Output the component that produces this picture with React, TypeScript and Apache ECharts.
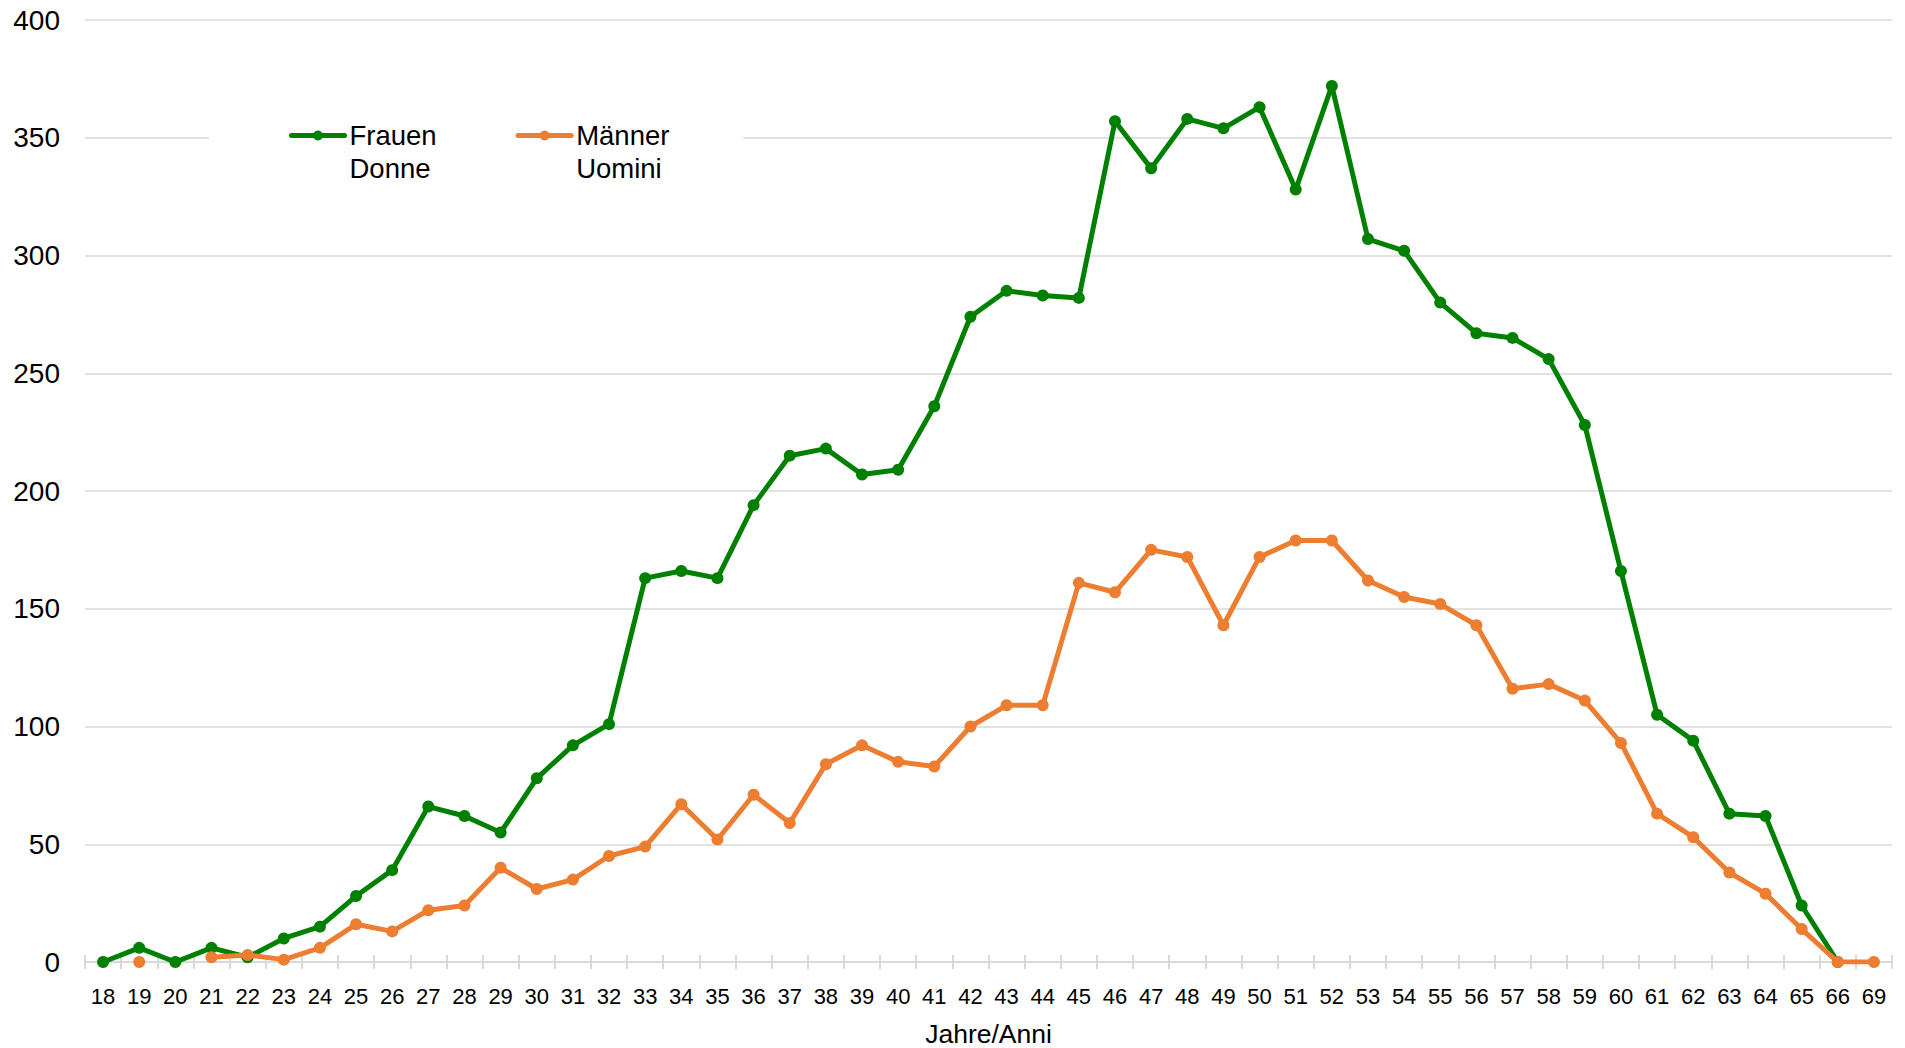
import React, { useEffect, useRef } from "react";
import * as echarts from "echarts";

const categories = [
  "18","19","20","21","22","23","24","25","26","27","28","29","30","31","32","33","34",
  "35","36","37","38","39","40","41","42","43","44","45","46","47","48","49","50","51",
  "52","53","54","55","56","57","58","59","60","61","62","63","64","65","66","69",
];

const frauen: (number | null)[] = [
  0, 6, 0, 6, 2, 10, 15, 28, 39, 66, 62, 55, 78, 92, 101, 163, 166,
  163, 194, 215, 218, 207, 209, 236, 274, 285, 283, 282, 357, 337, 358, 354, 363, 328,
  372, 307, 302, 280, 267, 265, 256, 228, 166, 105, 94, 63, 62, 24, 0, null,
];

const maenner: (number | null)[] = [
  null, 0, null, 2, 3, 1, 6, 16, 13, 22, 24, 40, 31, 35, 45, 49, 67,
  52, 71, 59, 84, 92, 85, 83, 100, 109, 109, 161, 157, 175, 172, 143, 172, 179,
  179, 162, 155, 152, 143, 116, 118, 111, 93, 63, 53, 38, 29, 14, 0, 0,
];

const yTicks = { min: 0, max: 400, interval: 50 };

const seriesNames = ["Frauen\nDonne", "Männer\nUomini"];
const seriesColors = ["#008000", "#ED7D31"];
const FONT = "'Liberation Sans', Arial, sans-serif";

export default function App() {
  const ref = useRef<HTMLDivElement>(null);

  useEffect(() => {
    if (!ref.current) return;
    const chart = echarts.init(ref.current, null, { renderer: "svg" });
    const lineSeries = (name: string, data: (number | null)[], color: string, z: number) => ({
      name,
      type: "line",
      data,
      z,
      connectNulls: false,
      symbol: "circle",
      symbolSize: 12,
      showSymbol: true,
      lineStyle: { color, width: 5, cap: "round", join: "round" },
      itemStyle: { color, borderWidth: 0 },
      emphasis: { disabled: true },
    });

    chart.setOption({
      animation: false,
      backgroundColor: "#ffffff",
      textStyle: { fontFamily: FONT },
      grid: {
        left: 85,
        right: 13,
        top: 20,
        bottom: 86,
        containLabel: false,
        outerBoundsMode: "none",
      },
      legend: {
        left: 209,
        top: 71,
        orient: "horizontal",
        backgroundColor: "#ffffff",
        padding: [15, 74, 5, 80],
        itemGap: 79,
        itemWidth: 53,
        itemHeight: 12.5,
        lineStyle: { width: 5, cap: "round" },
        formatter: (name: string) => " \n" + name,
        textStyle: {
          fontSize: 27.5,
          lineHeight: 33,
          color: "#000000",
          fontFamily: FONT,
        },
        data: seriesNames,
      },
      xAxis: [
        {
          type: "category",
          data: categories,
          boundaryGap: true,
          position: "bottom",
          name: "Jahre/Anni",
          nameLocation: "middle",
          nameGap: 60,
          nameTextStyle: { fontSize: 26.5, lineHeight: 24, color: "#000000", fontFamily: FONT },
          axisLine: { show: true, lineStyle: { color: "#d9d9d9", width: 2 } },
          axisTick: { show: true, inside: false, length: 7, alignWithLabel: false, lineStyle: { color: "#d9d9d9", width: 2 } },
          axisLabel: { fontSize: 22, color: "#000000", margin: 23, interval: 0, fontFamily: FONT },
          splitLine: { show: false },
        },
        {
          type: "category",
          data: categories,
          boundaryGap: true,
          position: "bottom",
          offset: 0,
          axisLine: { show: false },
          axisTick: { show: true, inside: true, length: 7, lineStyle: { color: "#d9d9d9", width: 2 } },
          axisLabel: { show: false },
          splitLine: { show: false },
        },
      ],
      yAxis: {
        type: "value",
        min: yTicks.min,
        max: yTicks.max,
        interval: yTicks.interval,
        axisLine: { show: false },
        axisTick: { show: false },
        axisLabel: { fontSize: 28, color: "#000000", margin: 25, fontFamily: FONT },
        splitLine: { show: true, lineStyle: { color: "#d9d9d9", width: 1.5 } },
      },
      series: [
        lineSeries(seriesNames[0], frauen, seriesColors[0], 2),
        lineSeries(seriesNames[1], maenner, seriesColors[1], 3),
      ],
    });
    return () => chart.dispose();
  }, []);

  return (
    <div
      ref={ref}
      style={{ position: "fixed", left: 0, top: 0, width: 1905, height: 1048, background: "#fff" }}
    />
  );
}
